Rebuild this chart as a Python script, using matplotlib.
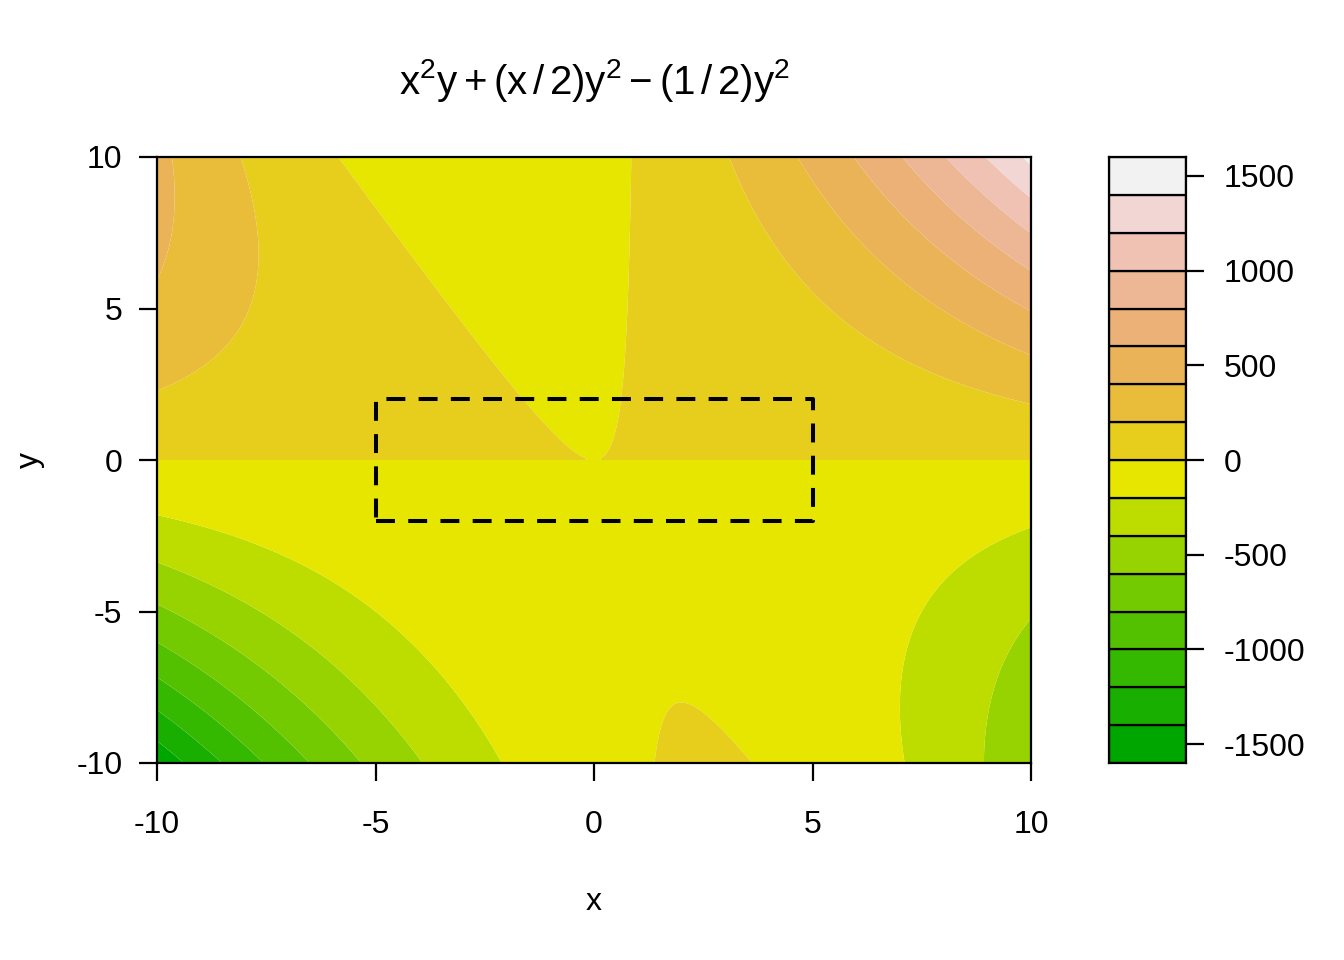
import numpy as np
import matplotlib
matplotlib.use("Agg")
import matplotlib.pyplot as plt
import colorsys

plt.rcParams['font.family'] = ['Liberation Sans', 'DejaVu Sans']
plt.rcParams['mathtext.fontset'] = 'custom'
plt.rcParams['mathtext.rm'] = 'Liberation Sans'
plt.rcParams['mathtext.it'] = 'Liberation Sans'
plt.rcParams['mathtext.bf'] = 'Liberation Sans:bold'
plt.rcParams['axes.unicode_minus'] = False

# function range and contour levels
x_range = [-10, 10]
y_range = [-10, 10]
levels = np.arange(-1600, 1601, 200)
cbar_ticks = [-1500, -1000, -500, 0, 500, 1000, 1500]
axis_ticks = [-10, -5, 0, 5, 10]
y_ticks = [-10, -5, 0, 5, 10]
# dashed box corners
box_x = [-5, 5, 5, -5, -5]
box_y = [-2, -2, 2, 2, -2]


def terrain_colors(n):
    # same as R's terrain.colors()
    k = n // 2
    hs = np.linspace(4/12, 2/12, k)
    ss = np.linspace(1, 1, k)
    vs = np.linspace(0.65, 0.9, k)
    h2 = np.linspace(2/12, 0, n - k + 1)[1:]
    s2 = np.linspace(1, 0, n - k + 1)[1:]
    v2 = np.linspace(0.9, 0.95, n - k + 1)[1:]
    out = []
    for h, s, v in zip(np.concatenate([hs, h2]), np.concatenate([ss, s2]), np.concatenate([vs, v2])):
        out.append(colorsys.hsv_to_rgb(h, s, v))
    return out


def f(x, y):
    return x**2 * y + (x / 2) * y**2 - 0.5 * y**2


cols = terrain_colors(len(levels) - 1)

gx = np.linspace(x_range[0], x_range[1], 401)
gy = np.linspace(y_range[0], y_range[1], 401)
X, Y = np.meshgrid(gx, gy)
Z = f(X, Y)

fig = plt.figure(figsize=(13.44, 9.6), dpi=100)
ax = fig.add_axes([157/1344, 1 - 763/960, (1031-157)/1344, (763-157)/960])
cax = fig.add_axes([1109/1344, 1 - 763/960, (1186-1109)/1344, (763-157)/960])

ax.contourf(X, Y, Z, levels=levels, colors=cols, antialiased=True)
ax.plot(box_x, box_y, color='k', lw=2.9, linestyle=(0, (4.7, 3.3)),
        dash_capstyle='butt', solid_joinstyle='miter')
ax.set_xlim(x_range)
ax.set_ylim(y_range)
ax.set_xticks(axis_ticks)
ax.set_yticks(y_ticks)
ax.tick_params(labelsize=23, length=13, width=1.6)
ax.tick_params(axis='x', pad=21)
ax.tick_params(axis='y', pad=12)
for s in ax.spines.values():
    s.set_linewidth(1.6)
ax.set_xlabel('x', fontsize=23)
ax.set_ylabel('y', fontsize=23)
ax.xaxis.set_label_coords(0.5, -0.205)
ax.yaxis.set_label_coords(-0.128, 0.5)
ax.set_title(r'$\mathregular{x^2y + (x\,/\,2)y^2 - (1\,/\,2)y^2}$', fontsize=29, pad=45)

for i in range(len(levels) - 1):
    cax.bar(0.5, levels[i+1] - levels[i], bottom=levels[i], width=1,
            color=cols[i], edgecolor='k', linewidth=1.6)
cax.set_xlim(0, 1)
cax.set_ylim(levels[0], levels[-1])
cax.set_xticks([])
cax.yaxis.tick_right()
cax.set_yticks(cbar_ticks)
cax.tick_params(labelsize=23, length=13, width=1.6, pad=14)
for s in cax.spines.values():
    s.set_linewidth(1.6)

fig.savefig('out.png', dpi=100)
